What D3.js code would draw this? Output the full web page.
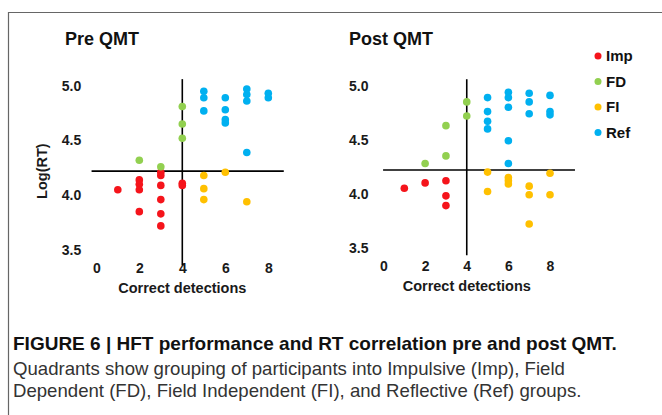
<!DOCTYPE html>
<html>
<head>
<meta charset="utf-8">
<script src="https://cdnjs.cloudflare.com/ajax/libs/d3/7.8.5/d3.min.js"></script>
<style>
  body { margin: 0; background: #fff; }
  svg { display: block; font-family: "Liberation Sans", Arial, sans-serif; }
</style>
</head>
<body>
<svg id="fig" width="662" height="415"></svg>
<script>
var groups = ["Imp", "FD", "FI", "Ref"];
var xTicks = [0, 2, 4, 6, 8];
var yTicks = [3.5, 4.0, 4.5, 5.0];
var detSplit = 4;      // correct detections split
var rtSplit = 4.22;    // log(RT) split

// [correct detections, log(RT)]
var preImp = [[1,4.05],[2,4.14],[2,4.10],[2,4.05],[2,3.85],[3,4.21],[3,4.18],[3,4.09],[3,3.96],[3,3.83],[3,3.72],[4,4.11],[4,4.09]];
var preFD  = [[2,4.32],[3,4.26],[4,4.81],[4,4.65],[4,4.52]];
var preFI  = [[5,4.18],[5,4.06],[5,3.96],[6,4.21],[7,3.94]];
var preRef = [[5,4.95],[5,4.89],[5,4.77],[6,4.89],[6,4.78],[6,4.69],[6,4.66],[7,4.97],[7,4.92],[7,4.86],[7,4.39],[8,4.93],[8,4.89]];

var postImp = [[1,4.05],[2,4.10],[3,4.12],[3,3.98],[3,3.89]];
var postFD  = [[2,4.28],[3,4.35],[3,4.63],[4,4.85],[4,4.72]];
var postFI  = [[5,4.20],[5,4.02],[6,4.15],[6,4.12],[6,4.09],[7,4.07],[7,3.99],[7,3.72],[8,4.19],[8,3.99]];
var postRef = [[5,4.89],[5,4.76],[5,4.67],[5,4.60],[6,4.94],[6,4.89],[6,4.80],[6,4.49],[6,4.28],[7,4.93],[7,4.85],[7,4.74],[8,4.91],[8,4.76],[8,4.73]];

var color = d3.scaleOrdinal()
    .domain(groups)
    .range(["#f5141b", "#92d050", "#ffc000", "#00b0f0"]);

var svg = d3.select("#fig");

// figure frame (top and left rules)
svg.append("path")
    .attr("d", "M8.5,415V12.5H662")
    .attr("fill", "none")
    .attr("stroke", "#666")
    .attr("stroke-width", 1.2);

var panels = [
  {title: "Pre QMT", sets: [preImp, preFD, preFI, preRef],
   xr: [96.3, 268.3], yr: [250, 85.7], titleX: 65, hx: [-0.22, 8.72], vy: [3.36, 5.06], ylab: true},
  {title: "Post QMT", sets: [postImp, postFD, postFI, postRef],
   xr: [383.5, 550], yr: [247.7, 85.7], titleX: 349, hx: [-0.02, 9.2], vy: [3.43, 5.06], ylab: false}
];

panels.forEach(function(p) {
  var x = d3.scaleLinear().domain([0, 8]).range(p.xr);
  var y = d3.scaleLinear().domain([3.5, 5.0]).range(p.yr);
  var g = svg.append("g");

  g.append("text")
      .attr("x", p.titleX)
      .attr("y", 45)
      .style("font", "bold 18px 'Liberation Sans', Arial, sans-serif")
      .attr("fill", "#111")
      .text(p.title);

  // tick labels only
  var yAxis = g.append("g")
      .attr("transform", "translate(" + x(0) + ",0)")
      .call(d3.axisLeft(y).tickValues(yTicks).tickFormat(d3.format(".1f")).tickSize(0).tickPadding(15));
  var xAxis = g.append("g")
      .attr("transform", "translate(0," + y(3.5) + ")")
      .call(d3.axisBottom(x).tickValues(xTicks).tickSize(0).tickPadding(13));
  [yAxis, xAxis].forEach(function(a) {
    a.select(".domain").remove();
    a.selectAll("text")
        .style("font", "bold 14px 'Liberation Sans', Arial, sans-serif")
        .attr("fill", "#1a1a1a");
  });

  g.append("text")
      .attr("x", (x(0) + x(8)) / 2)
      .attr("y", y(3.5) + 43)
      .attr("text-anchor", "middle")
      .style("font", "bold 14.5px 'Liberation Sans', Arial, sans-serif")
      .attr("fill", "#1a1a1a")
      .text("Correct detections");

  if (p.ylab) {
    g.append("text")
        .attr("transform", "translate(47," + y(4.22) + ") rotate(-90)")
        .attr("text-anchor", "middle")
        .style("font", "bold 14.5px 'Liberation Sans', Arial, sans-serif")
        .attr("fill", "#1a1a1a")
        .text("Log(RT)");
  }

  // quadrant lines
  g.append("line")
      .attr("x1", x(p.hx[0])).attr("x2", x(p.hx[1]))
      .attr("y1", y(rtSplit)).attr("y2", y(rtSplit))
      .attr("stroke", "#000").attr("stroke-width", 1.6);
  g.append("line")
      .attr("x1", x(detSplit)).attr("x2", x(detSplit))
      .attr("y1", y(p.vy[0])).attr("y2", y(p.vy[1]))
      .attr("stroke", "#000").attr("stroke-width", 1.6);

  p.sets.forEach(function(set, i) {
    g.selectAll(null)
        .data(set)
      .enter().append("circle")
        .attr("cx", function(d) { return x(d[0]); })
        .attr("cy", function(d) { return y(d[1]); })
        .attr("r", 3.8)
        .attr("fill", color(groups[i]));
  });
});

// legend
var legend = svg.selectAll(".legend")
    .data(groups)
  .enter().append("g")
    .attr("class", "legend")
    .attr("transform", function(d, i) { return "translate(598," + (56 + i * 25.5) + ")"; });
legend.append("circle")
    .attr("r", 3.5)
    .attr("fill", function(d) { return color(d); });
legend.append("text")
    .attr("x", 8)
    .attr("dy", "0.36em")
    .style("font", "bold 15px 'Liberation Sans', Arial, sans-serif")
    .attr("fill", "#111")
    .text(function(d) { return d; });

// caption
var cap = svg.append("g").attr("fill", "#111");
cap.append("text")
    .attr("x", 13)
    .attr("y", 350)
    .style("font", "bold 19px 'Liberation Sans Narrow', 'Liberation Sans', sans-serif")
    .text("FIGURE 6 | HFT performance and RT correlation pre and post QMT.");
var capLines = ["Quadrants show grouping of participants into Impulsive (Imp), Field",
                "Dependent (FD), Field Independent (FI), and Reflective (Ref) groups."];
cap.selectAll(".capline")
    .data(capLines)
  .enter().append("text")
    .attr("class", "capline")
    .attr("x", 13)
    .attr("y", function(d, i) { return 375 + i * 22; })
    .style("font", "18.6px 'Liberation Sans', Arial, sans-serif")
    .attr("fill", "#333")
    .text(function(d) { return d; });
</script>
</body>
</html>
